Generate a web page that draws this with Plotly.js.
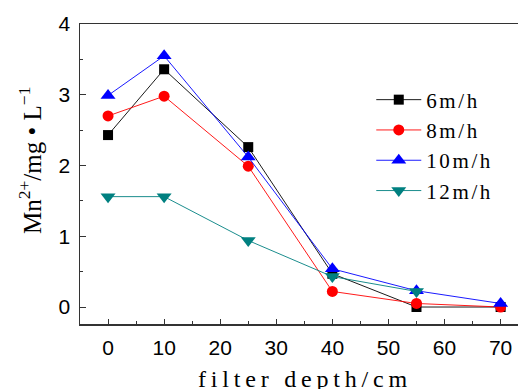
<!DOCTYPE html>
<html>
<head>
<meta charset="utf-8">
<script src="https://cdn.plot.ly/plotly-3.0.1.min.js"></script>
<style>
html,body{margin:0;padding:0;background:#fff;}
#chart{width:518px;height:389px;}
#chart .legendtext{letter-spacing:2.6px;}
#chart .legend .scrollbox{clip-path:none !important;}
#chart .annotation[data-index="0"] text{letter-spacing:4.8px;}
</style>
</head>
<body>
<div id="chart"></div>
<script>
const depth = [0, 10, 25, 40, 55, 70];
const depth12 = [0, 10, 25, 40, 55];
const series6 = [2.43, 3.36, 2.26, 0.47, 0.0, 0.0];
const series8 = [2.70, 2.98, 1.99, 0.22, 0.05, 0.0];
const series10 = [2.99, 3.55, 2.12, 0.54, 0.23, 0.05];
const series12 = [1.56, 1.56, 0.94, 0.43, 0.22];
const names = ['6m/h', '8m/h', '10m/h', '12m/h'];
const xTicks = [0, 10, 20, 30, 40, 50, 60, 70];
const yTicks = [0, 1, 2, 3, 4];

function tr(x, y, name, color, symbol, size) {
  return {x: x, y: y, name: name, type: 'scatter', mode: 'lines+markers',
    line: {color: color, width: 0.9},
    marker: {color: color, symbol: symbol, size: size, line: {width: 0}}};
}
const data = [
  tr(depth, series6, names[0], '#000000', 'square', 10),
  tr(depth, series8, names[1], '#ff0000', 'circle', 11),
  tr(depth, series10, names[2], '#0000ff', 'triangle-up', 13),
  tr(depth12, series12, names[3], '#008080', 'triangle-down', 13)
];
const tickFont = {family: 'Liberation Sans, Arial, sans-serif', size: 21, color: '#000'};
const layout = {
  width: 518, height: 389,
  margin: {l: 80, r: 0, t: 24, b: 65},
  paper_bgcolor: '#fff', plot_bgcolor: '#fff',
  showlegend: true,
  legend: {x: 0.665, y: 0.815, xanchor: 'left', yanchor: 'top',
    font: {family: '"Liberation Serif", serif', size: 21, color: '#000'},
    bgcolor: 'rgba(0,0,0,0)', itemwidth: 45, tracegroupgap: 0},
  xaxis: {range: [-5, 73.1], tickvals: xTicks, ticktext: xTicks.map(String),
    ticks: 'inside', ticklen: 5, tickwidth: 1, tickcolor: '#333',
    minor: {dtick: 5, tick0: 0, ticks: 'inside', ticklen: 3, tickcolor: '#333'},
    showline: true, linecolor: '#333', linewidth: 1.5, mirror: true,
    showgrid: false, zeroline: false, tickfont: tickFont, ticklabelstandoff: 4},
  yaxis: {range: [-0.24, 4], tickvals: yTicks, ticktext: yTicks.map(String),
    ticks: 'inside', ticklen: 6, tickwidth: 1, tickcolor: '#333',
    minor: {dtick: 0.5, tick0: 0, ticks: 'inside', ticklen: 3, tickcolor: '#333'},
    showline: true, linecolor: '#333', linewidth: 1.5,
    showgrid: false, zeroline: false, tickfont: tickFont, ticklabelstandoff: 4},
  annotations: [
    {text: 'filter depth/cm', xref: 'paper', yref: 'paper', x: 0.514, y: 0,
      xanchor: 'center', yanchor: 'middle', yshift: -55, showarrow: false,
      font: {family: '"Liberation Serif", serif', size: 24, color: '#000'}},
    {text: 'Mn<sup>2+</sup>/mg • L<sup>\u2212</sup><sup>1</sup>', xref: 'paper', yref: 'paper',
      x: 0, y: 0.5, xanchor: 'center', yanchor: 'middle', xshift: -50, yshift: 13,
      textangle: -90, showarrow: false,
      font: {family: '"Liberation Serif", serif', size: 25, color: '#000'}}
  ]
};
Plotly.newPlot('chart', data, layout, {displayModeBar: false, staticPlot: true});
</script>
</body>
</html>
